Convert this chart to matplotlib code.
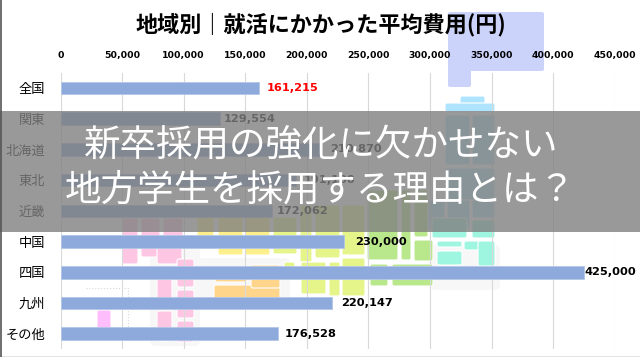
"""Regional job hunting cost bars over a pale tile map, with a grey title banner."""
import matplotlib
matplotlib.use("Agg")
import matplotlib.pyplot as plt
from matplotlib.patches import FancyBboxPatch, Rectangle

plt.rcParams["font.family"] = ["Noto Sans CJK JP", "DejaVu Sans"]

regions = ["全国", "関東", "北海道", "東北", "近畿", "中国", "四国", "九州", "その他"]
costs = [161215, 129554, 210870, 191100, 172062, 230000, 425000, 220147, 176528]
cost_ticks = [0, 50000, 100000, 150000, 200000, 250000, 300000, 350000, 400000, 450000]
# labels were placed by hand in the original, so the gap varies
label_gap_px = [8, 4, 10, 8, 4, 11, 1, 10, 7]
title = "地域別｜就活にかかった平均費用(円)"
banner_lines = ["新卒採用の強化に欠かせない", "地方学生を採用する理由とは？"]

W, H = 640, 357
BAR = "#8EA9DB"

# background map tiles in picture pixels: x0, y0, x1, y1
TILES = {
    "#AEE4FF": [(460, 96, 485, 110), (445, 103, 495, 112), (445, 115, 470, 165),
                (472, 115, 495, 165), (445, 168, 495, 200), (425, 200, 445, 230),
                (447, 200, 470, 230), (472, 200, 495, 218)],
    "#9EF5E0": [(432, 218, 467, 238), (472, 220, 495, 238), (437, 241, 462, 247),
                (437, 251, 462, 265), (464, 241, 495, 250), (478, 241, 495, 266)],
    "#B9E88C": [(367, 190, 398, 260), (401, 190, 411, 260), (414, 240, 433, 261),
                (414, 190, 428, 237), (370, 264, 388, 286), (392, 264, 433, 286)],
    "#E6F58A": [(300, 205, 312, 262), (315, 205, 340, 258), (342, 205, 365, 255),
                (342, 258, 365, 296), (301, 262, 326, 294), (329, 262, 340, 296),
                (273, 217, 297, 254), (284, 262, 295, 268)],
    "#FDF08C": [(197, 217, 214, 248), (218, 217, 243, 255), (245, 217, 270, 255)],
    "#FFD58C": [(215, 270, 247, 282), (214, 285, 280, 300), (251, 265, 280, 288)],
    "#FFC6E4": [(122, 218, 138, 264), (141, 218, 160, 257), (163, 218, 183, 240),
                (157, 240, 182, 264), (157, 279, 172, 305), (157, 311, 172, 341),
                (177, 259, 194, 287), (177, 290, 194, 318), (177, 321, 194, 342)],
    "#FFBDFB": [(97, 310, 111, 335)],
}
# top islands tile is two joined blocks, so no white edge between them
JOINED = [(448, 12, 544, 71), (448, 60, 471, 87)]
SHADOWS = [(150, 242, 200, 346), (198, 258, 290, 305), (430, 245, 500, 290)]

fig = plt.figure(figsize=(W / 100, H / 100), dpi=100, facecolor="white")

# --- map behind the chart ---
bg = fig.add_axes([0, 0, 1, 1], zorder=0)
bg.set_xlim(0, W)
bg.set_ylim(H, 0)
bg.axis("off")
for x0, y0, x1, y1 in SHADOWS:
    bg.add_patch(FancyBboxPatch((x0, y0), x1 - x0, y1 - y0,
                                boxstyle="round,pad=0,rounding_size=6",
                                fc="#F7F7F7", ec="none"))
for x0, y0, x1, y1 in JOINED:
    bg.add_patch(FancyBboxPatch((x0, y0), x1 - x0, y1 - y0,
                                boxstyle="round,pad=0,rounding_size=2",
                                fc="#CCD3FB", ec="none"))
for color, boxes in TILES.items():
    for x0, y0, x1, y1 in boxes:
        bg.add_patch(FancyBboxPatch((x0, y0), x1 - x0, y1 - y0,
                                    boxstyle="round,pad=0,rounding_size=2",
                                    fc=color, ec="white", lw=0.8))
bg.plot([86, 128, 128], [288, 288, 330], color="#D8D8D8", lw=0.8, ls=":")

# --- chart ---
ax = fig.add_axes([60.5 / W, 1 - 349 / H, 554.2 / W, 276.4 / H], zorder=1)
ax.patch.set_alpha(0)
ax.barh(regions, costs, height=0.41, color=BAR, edgecolor="#B4C6E7", linewidth=0.6,
        zorder=3)
ax.set_xlim(0, 450000)
ax.set_ylim(8.5, -0.5)
ax.xaxis.tick_top()
ax.set_xticks(cost_ticks, [f"{t:,}" for t in cost_ticks], fontsize=6.7,
              fontweight="bold", family="DejaVu Sans")
ax.tick_params(axis="x", length=0, pad=9)
ax.tick_params(axis="y", length=0, pad=11, labelsize=9.5)
ax.grid(axis="x", color="#D9D9D9", linewidth=0.8, zorder=1)
ax.set_axisbelow(True)
for side in ax.spines.values():
    side.set_visible(False)
for i, (val, gap) in enumerate(zip(costs, label_gap_px)):
    ax.annotate(f"{val:,}", (val, i), xytext=(gap * 0.72, 0), textcoords="offset points",
                va="center", ha="left", fontsize=8.2, fontweight="bold",
                family="DejaVu Sans", color="#FF0000" if i == 0 else "black", zorder=4)

# --- title, banner, frame on top ---
top = fig.add_axes([0, 0, 1, 1], zorder=2)
top.set_xlim(0, W)
top.set_ylim(H, 0)
top.axis("off")
top.text(321, 25, title, ha="center", va="center", fontsize=15.9, fontweight="bold")
top.add_patch(Rectangle((0, 111), W, 121, fc="#808080", ec="none", alpha=0.8))
top.text(321, 145, banner_lines[0], ha="center", va="center", color="white", fontsize=26.3)
top.text(320, 190, banner_lines[1], ha="center", va="center", color="white", fontsize=26.3)
top.plot([0.5, 0.5], [0, H], color="#555555", lw=1.2)
top.plot([0, W], [356.5, 356.5], color="#777777", lw=1.0)

fig.savefig("out.png", dpi=100)
plt.close(fig)
